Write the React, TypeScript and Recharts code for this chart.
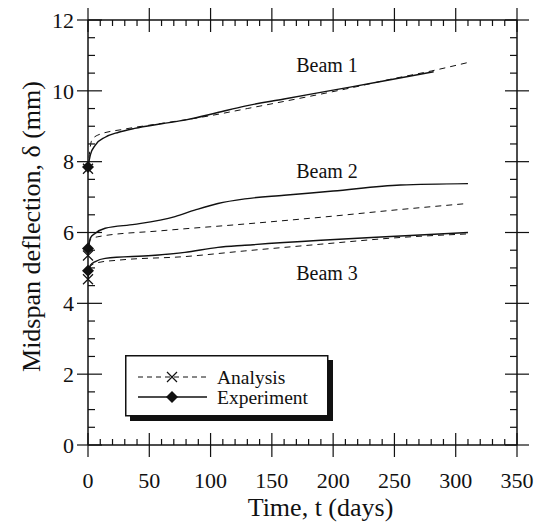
import { LineChart, Line, XAxis, YAxis, Legend, ReferenceDot, ReferenceLine, Label } from "recharts";

const FONT = "'Liberation Serif', 'Times New Roman', serif";
const INK = "#111";

// chart geometry
const W = 545;
const H = 528;
const MARGIN = { top: 20, right: 28, bottom: 0, left: 0 };
const X_AXIS_H = 83;
const Y_AXIS_W = 88;
const PLOT_W = W - MARGIN.left - MARGIN.right - Y_AXIS_W;
const PLOT_H = H - MARGIN.top - MARGIN.bottom - X_AXIS_H;

// tick values (labels on the majors)
const xTicks = [0, 10, 20, 30, 40, 50, 60, 70, 80, 90, 100, 110, 120, 130, 140, 150, 160, 170, 180, 190, 200, 210, 220, 230, 240, 250, 260, 270, 280, 290, 300, 310, 320, 330, 340, 350];
const xLabelStep = 50;
const yTicks = [0, 0.5, 1, 1.5, 2, 2.5, 3, 3.5, 4, 4.5, 5, 5.5, 6, 6.5, 7, 7.5, 8, 8.5, 9, 9.5, 10, 10.5, 11, 11.5, 12];
const yLabelStep = 2;

// Beam 1
const b1ExpDays = [0, 2, 6, 14, 25, 38, 60, 80, 105, 128, 160, 200, 240, 282];
const b1ExpVals = [7.85, 8.2, 8.47, 8.69, 8.83, 8.94, 9.07, 9.18, 9.38, 9.57, 9.77, 10.02, 10.27, 10.54];
const b1AnaDays = [0, 3, 8, 30, 60, 100, 130, 170, 210, 250, 280, 310];
const b1AnaVals = [7.8, 8.6, 8.75, 8.92, 9.08, 9.3, 9.5, 9.77, 10.05, 10.35, 10.56, 10.8];

// Beam 2
const b2ExpDays = [0, 2, 6, 14, 38, 71, 87, 106, 128, 160, 200, 255, 310];
const b2ExpVals = [5.55, 5.85, 5.98, 6.12, 6.23, 6.45, 6.63, 6.82, 6.95, 7.05, 7.17, 7.34, 7.38];
const b2AnaDays = [0, 2, 8, 60, 128, 190, 255, 310];
const b2AnaVals = [5.35, 5.8, 5.88, 6.05, 6.24, 6.43, 6.65, 6.82];

// Beam 3
const b3ExpDays = [0, 2, 6, 14, 52, 79, 106, 128, 190, 255, 310];
const b3ExpVals = [4.92, 5.08, 5.18, 5.27, 5.35, 5.44, 5.58, 5.64, 5.78, 5.9, 6.0];
const b3AnaDays = [0, 2, 8, 25, 79, 128, 190, 255, 310];
const b3AnaVals = [4.68, 5.05, 5.15, 5.22, 5.32, 5.48, 5.67, 5.86, 5.96];

// beam name annotations
const beamNames = ["Beam 1", "Beam 2", "Beam 3"];
const beamNameDays = [195, 195, 195];
const beamNameVals = [10.73, 7.74, 4.86];

const toPoints = (days: number[], vals: number[]) => days.map((t, i) => ({ t, v: vals[i] }));

const series = [
  { name: "b1a", kind: "analysis", data: toPoints(b1AnaDays, b1AnaVals) },
  { name: "b1e", kind: "experiment", data: toPoints(b1ExpDays, b1ExpVals) },
  { name: "b2a", kind: "analysis", data: toPoints(b2AnaDays, b2AnaVals) },
  { name: "b2e", kind: "experiment", data: toPoints(b2ExpDays, b2ExpVals) },
  { name: "b3a", kind: "analysis", data: toPoints(b3AnaDays, b3AnaVals) },
  { name: "b3e", kind: "experiment", data: toPoints(b3ExpDays, b3ExpVals) },
];

const XMark = ({ cx, cy }: any) => (
  <path
    d={`M${cx - 5},${cy - 5}L${cx + 5},${cy + 5}M${cx + 5},${cy - 5}L${cx - 5},${cy + 5}`}
    stroke={INK}
    strokeWidth={1.2}
    fill="none"
  />
);

const Diamond = ({ cx, cy }: any) => (
  <path d={`M${cx},${cy - 6}L${cx + 6},${cy}L${cx},${cy + 6}L${cx - 6},${cy}Z`} fill={INK} />
);

const firstDot = (kind: string) => (props: any) => {
  const { index, cx, cy } = props;
  if (index !== 0) return <g key={`e${index}`} />;
  return kind === "analysis" ? <XMark key={`d${index}`} cx={cx} cy={cy} /> : <Diamond key={`d${index}`} cx={cx} cy={cy} />;
};

// filled 1px bars for tick marks
const VBar = ({ x, y0, y1 }: any) => <rect x={x - 0.6} y={Math.min(y0, y1)} width={1.2} height={Math.abs(y1 - y0)} fill={INK} stroke="none" />;
const HBar = ({ y, x0, x1 }: any) => <rect x={Math.min(x0, x1)} y={y - 0.6} width={Math.abs(x1 - x0)} height={1.2} fill={INK} stroke="none" />;

// bottom axis tick: crossing major / inward minor, plus the mirrored mark on the top frame
const BottomTick = (props: any) => {
  const x = Number(props.x);
  const y = Number(props.y);
  const v = props.payload.value;
  const major = v % xLabelStep === 0;
  const top = y - PLOT_H;
  return (
    <g>
      <VBar x={x} y0={y - (major ? 12 : 6)} y1={y + (major ? 12 : 0)} />
      <VBar x={x} y0={top - (major ? 12 : 0)} y1={top + (major ? 12 : 6)} />
      {major && (
        <text x={x} y={y + 27} dy="0.71em" textAnchor="middle" fontFamily={FONT} fontSize={22} fill={INK}>
          {v}
        </text>
      )}
    </g>
  );
};

// left axis tick, plus the mirrored mark on the right frame
const LeftTick = (props: any) => {
  const x = Number(props.x);
  const y = Number(props.y);
  const v = props.payload.value;
  const major = v % yLabelStep === 0;
  const right = x + PLOT_W;
  return (
    <g>
      <HBar y={y} x0={x - (major ? 11 : 0)} x1={x + (major ? 14 : 7)} />
      <HBar y={y} x0={right - (major ? 12 : 7)} x1={right + (major ? 12 : 0)} />
      {major && (
        <text x={x - 14} y={y} dy="0.355em" textAnchor="end" fontFamily={FONT} fontSize={22} fill={INK}>
          {v}
        </text>
      )}
    </g>
  );
};

const LegendBox = () => (
  <svg width={210} height={68}>
    <rect x={5} y={5} width={203} height={61} fill={INK} />
    <rect x={0.75} y={0.75} width={202} height={60} fill="#fff" stroke={INK} strokeWidth={1.5} />
    <line x1={13} x2={82} y1={22} y2={22} stroke={INK} strokeDasharray="5 4" />
    <XMark cx={47} cy={22} />
    <text x={92} y={22} dominantBaseline="central" fontFamily={FONT} fontSize={19.5} fill={INK}>
      Analysis
    </text>
    <line x1={13} x2={82} y1={42} y2={42} stroke={INK} strokeWidth={1.3} />
    <Diamond cx={47} cy={42} />
    <text x={92} y={42} dominantBaseline="central" fontFamily={FONT} fontSize={19.5} fill={INK}>
      Experiment
    </text>
  </svg>
);

const YTitle = (props: any) => {
  const { viewBox } = props;
  const cx = viewBox.x + 40;
  const cy = viewBox.y + viewBox.height / 2 - 6;
  return (
    <text x={cx} y={cy} transform={`rotate(-90 ${cx} ${cy})`} textAnchor="middle" fontFamily={FONT} fontSize={26} fill={INK}>
      Midspan deflection, δ (mm)
    </text>
  );
};

export default function App() {
  return (
    <div style={{ position: "absolute", left: 0, top: 0, width: W, height: H, background: "#fff" }}>
      <LineChart width={W} height={H} margin={MARGIN}>
        <XAxis
          xAxisId="x"
          type="number"
          dataKey="t"
          domain={[0, 350]}
          ticks={xTicks}
          interval={0}
          height={X_AXIS_H}
          tickSize={0}
          tickMargin={0}
          tickLine={false}
          tick={<BottomTick />}
          axisLine={{ stroke: INK, strokeWidth: 1.5 }}
        >
          <Label value="Time, t (days)" position="insideBottom" offset={12} dx={18} fontSize={26} fontFamily={FONT} fill={INK} />
        </XAxis>
        <YAxis
          yAxisId="y"
          type="number"
          domain={[0, 12]}
          ticks={yTicks}
          interval={0}
          width={Y_AXIS_W}
          tickSize={0}
          tickMargin={0}
          tickLine={false}
          tick={<LeftTick />}
          axisLine={{ stroke: INK, strokeWidth: 1.5 }}
        >
          <Label content={<YTitle />} />
        </YAxis>
        <ReferenceLine xAxisId="x" yAxisId="y" y={12} stroke={INK} strokeWidth={1.5} />
        <ReferenceLine xAxisId="x" yAxisId="y" x={350} stroke={INK} strokeWidth={1.5} />
        {series.map((s) => (
          <Line
            key={s.name}
            xAxisId="x"
            yAxisId="y"
            data={s.data}
            dataKey="v"
            type="monotone"
            stroke={INK}
            strokeWidth={s.kind === "analysis" ? 1 : 1.4}
            strokeDasharray={s.kind === "analysis" ? "6 5" : undefined}
            dot={firstDot(s.kind)}
            activeDot={false}
            isAnimationActive={false}
          />
        ))}
        {beamNames.map((n, i) => (
          <ReferenceDot
            key={n}
            xAxisId="x"
            yAxisId="y"
            x={beamNameDays[i]}
            y={beamNameVals[i]}
            r={0}
            fill="none"
            stroke="none"
            label={{ value: n, position: "center", fontSize: 20, fontFamily: FONT, fill: INK }}
          />
        ))}
        <Legend
          layout="vertical"
          align="center"
          verticalAlign="middle"
          content={<LegendBox />}
          wrapperStyle={{ left: 125, top: 355, width: 210, height: 68, bottom: "auto", right: "auto" }}
        />
      </LineChart>
    </div>
  );
}
